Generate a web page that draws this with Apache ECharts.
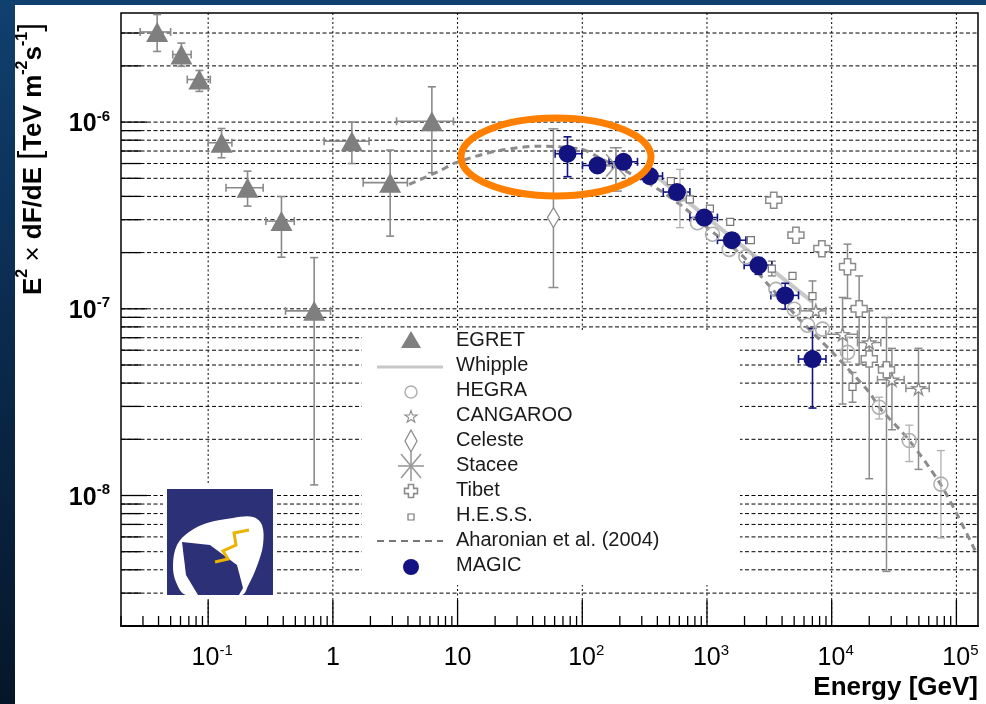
<!DOCTYPE html>
<html>
<head>
<meta charset="utf-8">
<script src="https://cdn.jsdelivr.net/npm/echarts@6/dist/echarts.min.js"></script>
<style>
html, body { margin: 0; padding: 0; width: 986px; height: 704px; overflow: hidden;
  background: linear-gradient(180deg, #10406f 0%, #0b2b4e 45%, #061629 100%); }
#paper { position: absolute; left: 15px; top: 5px; width: 971px; height: 699px; background: #fff; }
#main { position: absolute; left: 0; top: 0; width: 986px; height: 704px; }
</style>
</head>
<body>
<div id="paper"></div>
<div id="main"></div>
<script>
// axis ranges and tick labels
var xMin = 0.02, xMax = 1.49e5;
var yMin = 2e-9, yMax = 3.84e-6;
var xDecades = [0.1, 1, 10, 100, 1e3, 1e4, 1e5];
var xLabelBase = ['10', '1', '10', '10', '10', '10', '10'];
var xLabelExp = ['-1', '', '', '2', '3', '4', '5'];
var yDecades = [1e-8, 1e-7, 1e-6];
var yLabelExp = ['-8', '-7', '-6'];

// [E (GeV), E2dF/dE, low, high, Elow, Ehigh]
var egret = [
    [0.039, 3.04e-6, 2.39e-6, 3.77e-6, 0.0285, 0.050],
    [0.061, 2.30e-6, 1.99e-6, 2.65e-6, 0.052, 0.073],
    [0.085, 1.69e-6, 1.46e-6, 1.89e-6, 0.068, 0.104],
    [0.128, 7.75e-7, 6.44e-7, 9.24e-7, 0.100, 0.155],
    [0.207, 4.45e-7, 3.55e-7, 5.46e-7, 0.139, 0.276],
    [0.387, 2.95e-7, 1.89e-7, 3.99e-7, 0.29, 0.49],
    [0.708, 9.75e-8, 1.14e-8, 1.88e-7, 0.417, 0.958],
    [1.42, 7.9e-7, 6.0e-7, 1.0e-6, 0.851, 1.95],
    [2.88, 4.74e-7, 2.45e-7, 7.08e-7, 1.75, 3.96],
    [6.22, 1.01e-6, 5.36e-7, 1.545e-6, 3.24, 9.27]
];
var magic = [
    [76.1, 6.77e-7, 5.1e-7, 8.34e-7, 60.6, 99.3],
    [132.4, 5.86e-7, 5.4e-7, 6.37e-7, 100.4, 174.6],
    [214, 6.13e-7, 5.75e-7, 6.5e-7, 164, 277],
    [348, 5.14e-7, 4.95e-7, 5.33e-7, 295, 440],
    [574, 4.22e-7, 4.05e-7, 4.4e-7, 446, 729],
    [950, 3.08e-7, 2.95e-7, 3.22e-7, 729, 1213],
    [1584, 2.33e-7, 2.2e-7, 2.46e-7, 1213, 2050],
    [2588, 1.71e-7, 1.53e-7, 1.88e-7, 1986, 3311],
    [4236, 1.18e-7, 9.96e-8, 1.37e-7, 3251, 5420],
    [7015, 5.38e-8, 2.94e-8, 7.85e-8, 5420, 8995]
];
var hegra = [
    [607, 4.1e-7, 2.72e-7, 5.58e-7, 607, 607],
    [839, 2.89e-7, 2.89e-7, 2.89e-7, 839, 839],
    [1107, 2.51e-7, 2.51e-7, 2.51e-7, 1107, 1107],
    [1507, 2.08e-7, 2.08e-7, 2.08e-7, 1507, 1507],
    [2051, 1.9e-7, 1.9e-7, 1.9e-7, 2051, 2051],
    [3573, 1.27e-7, 1.27e-7, 1.27e-7, 3573, 3573],
    [5000, 9.95e-8, 9.95e-8, 9.95e-8, 5000, 5000],
    [6400, 8.17e-8, 8.17e-8, 8.17e-8, 6400, 6400],
    [8433, 7.78e-8, 7.78e-8, 7.78e-8, 8433, 8433],
    [13390, 5.84e-8, 5.18e-8, 7.05e-8, 13390, 13390],
    [24040, 2.97e-8, 2.57e-8, 3.36e-8, 24040, 24040],
    [41880, 1.97e-8, 1.52e-8, 2.38e-8, 41880, 41880],
    [75160, 1.15e-8, 5.92e-9, 1.74e-8, 75160, 75160]
];
var hess = [
    [513, 4.83e-7, 4.83e-7, 4.83e-7, 513, 513],
    [729, 3.86e-7, 3.86e-7, 3.86e-7, 729, 729],
    [1055, 3.44e-7, 3.44e-7, 3.44e-7, 1055, 1055],
    [1535, 2.92e-7, 2.92e-7, 2.92e-7, 1535, 1535],
    [2249, 2.33e-7, 2.33e-7, 2.33e-7, 2249, 2249],
    [3311, 1.64e-7, 1.5e-7, 1.8e-7, 3311, 3311],
    [4850, 1.5e-7, 1.5e-7, 1.5e-7, 4850, 4850],
    [7015, 1.17e-7, 1.0e-7, 1.41e-7, 7015, 7015],
    [14690, 3.82e-8, 3.16e-8, 4.56e-8, 14690, 14690]
];
var tibet = [
    [3430, 3.82e-7, 3.82e-7, 3.82e-7, 3430, 3430],
    [5164, 2.48e-7, 2.48e-7, 2.48e-7, 5164, 5164],
    [8340, 2.1e-7, 2.1e-7, 2.1e-7, 8340, 8340],
    [13390, 1.68e-7, 1.135e-7, 2.22e-7, 13390, 13390],
    [16600, 1.0e-7, 5.06e-8, 1.5e-7, 16600, 16600],
    [20000, 5.38e-8, 5.38e-8, 5.38e-8, 20000, 20000],
    [27500, 4.71e-8, 3.92e-9, 8.98e-8, 27500, 27500]
];
var cangaroo = [
    [7465, 9.75e-8, 9.75e-8, 9.75e-8, 5534, 8977],
    [12220, 7.31e-8, 3.09e-8, 1.15e-7, 8977, 16100],
    [20000, 6.6e-8, 1.23e-8, 9.75e-8, 16100, 24770],
    [30400, 4.17e-8, 2.25e-8, 6.14e-8, 23280, 38100],
    [49660, 3.75e-8, 1.38e-8, 6.14e-8, 39360, 60530]
];
var celeste = [[58.7, 3.08e-7, 1.3e-7, 9.2e-7, 58.7, 58.7]];
var stacee = [[186, 5.86e-7, 4.27e-7, 7.29e-7, 186, 186]];
var whipple = [[400, 5.07e-7], [2000, 2.12e-7], [7000, 1.09e-7]];
var aharonian = [
    [4.09, 4.64e-7], [7.1, 5.46e-7], [9.7, 6.06e-7], [20.3, 6.99e-7], [45, 7.43e-7],
    [100, 7.14e-7], [137, 6.44e-7], [224, 5.46e-7], [389, 4.45e-7], [632, 3.55e-7],
    [1041, 2.67e-7], [1927, 1.92e-7], [3155, 1.33e-7], [5495, 8.8e-8], [10140, 5.84e-8],
    [20000, 3.57e-8], [24040, 2.97e-8], [41880, 1.97e-8], [72800, 1.18e-8],
    [99000, 8.15e-9], [143300, 4.98e-9]
];
var legendNames = ['EGRET', 'Whipple', 'HEGRA', 'CANGAROO', 'Celeste', 'Stacee', 'Tibet',
    'H.E.S.S.', 'Aharonian et al. (2004)', 'MAGIC'];

// tick values: decades and 2..9 multiples
function logTicks(lo, hi) {
    var out = [];
    for (var d = Math.floor(Math.log10(lo)); d <= Math.ceil(Math.log10(hi)); d++) {
        for (var m = 1; m <= 9; m++) {
            var v = m * Math.pow(10, d);
            if (v >= lo && v <= hi) out.push([v, m === 1 ? 1 : 0]);
        }
    }
    return out;
}
var xTicks = logTicks(xMin, xMax);
var yTicks = logTicks(yMin, yMax);

var FONT = '"Liberation Sans", Arial, sans-serif';

function hGrid(params, api) {
    var cs = params.coordSys;
    var y = api.coord([1, api.value(1)])[1];
    return { type: 'line', silent: true,
        shape: { x1: cs.x, y1: y, x2: cs.x + cs.width, y2: y },
        style: { stroke: '#000', lineWidth: 1, lineDash: [4, 2.5] } };
}
function vGrid(params, api) {
    var cs = params.coordSys;
    var x = api.coord([api.value(0), 1e-7])[0];
    return { type: 'line', silent: true,
        shape: { x1: x, y1: cs.y, x2: x, y2: cs.y + cs.height },
        style: { stroke: '#000', lineWidth: 1, lineDash: [2, 2.5] } };
}
function xTick(params, api) {
    var cs = params.coordSys;
    var x = api.coord([api.value(0), 1e-7])[0];
    var len = api.value(1) ? 26 : 10;
    var yb = cs.y + cs.height;
    return { type: 'line', silent: true, shape: { x1: x, y1: yb, x2: x, y2: yb - len },
        style: { stroke: '#000', lineWidth: 1.3 } };
}
function yTick(params, api) {
    var cs = params.coordSys;
    var y = api.coord([1, api.value(1)])[1];
    var len = api.value(0) ? 26 : 20;
    return { type: 'line', silent: true, shape: { x1: cs.x, y1: y, x2: cs.x + len, y2: y },
        style: { stroke: '#000', lineWidth: 1.3 } };
}
function xLabel(params, api) {
    var cs = params.coordSys;
    var i = params.dataIndex;
    var x = api.coord([api.value(0), 1e-7])[0];
    var txt = '{b|' + xLabelBase[i] + '}' + (xLabelExp[i] ? '{s|' + xLabelExp[i] + '}' : '');
    return { type: 'text', silent: true, x: x + (xLabelExp[i] ? 4 : 0), y: cs.y + cs.height + 31,
        style: { text: txt, textAlign: 'center', textVerticalAlign: 'middle',
            rich: { b: { fontSize: 25, fontFamily: FONT, color: '#000', lineHeight: 28, verticalAlign: 'bottom' },
                    s: { fontSize: 15, fontFamily: FONT, color: '#000', lineHeight: 16, verticalAlign: 'top' } } } };
}
function yLabel(params, api) {
    var cs = params.coordSys;
    var i = params.dataIndex;
    var y = api.coord([1, api.value(1)])[1];
    var txt = '{b|10}{s|' + yLabelExp[i] + '}';
    return { type: 'text', silent: true, x: cs.x - 11, y: y + 1,
        style: { text: txt, textAlign: 'right', textVerticalAlign: 'middle',
            rich: { b: { fontSize: 25, fontWeight: 'bold', fontFamily: FONT, color: '#000', lineHeight: 28, verticalAlign: 'bottom' },
                    s: { fontSize: 15, fontWeight: 'bold', fontFamily: FONT, color: '#000', lineHeight: 16, verticalAlign: 'top' } } } };
}
function makeErr(color, cap, lw) {
    return function (params, api) {
        var e = api.value(0), f = api.value(1);
        var flo = api.value(2), fhi = api.value(3), elo = api.value(4), ehi = api.value(5);
        var c = api.coord([e, f]);
        var st = { stroke: color, lineWidth: lw };
        var kids = [];
        if (fhi > flo) {
            var yt = api.coord([e, fhi])[1], yb = api.coord([e, flo])[1];
            kids.push({ type: 'line', shape: { x1: c[0], y1: yt, x2: c[0], y2: yb }, style: st });
            kids.push({ type: 'line', shape: { x1: c[0] - cap, y1: yt, x2: c[0] + cap, y2: yt }, style: st });
            kids.push({ type: 'line', shape: { x1: c[0] - cap, y1: yb, x2: c[0] + cap, y2: yb }, style: st });
        }
        if (ehi > elo) {
            var xl = api.coord([elo, f])[0], xr = api.coord([ehi, f])[0];
            kids.push({ type: 'line', shape: { x1: xl, y1: c[1], x2: xr, y2: c[1] }, style: st });
            kids.push({ type: 'line', shape: { x1: xl, y1: c[1] - cap, x2: xl, y2: c[1] + cap }, style: st });
            kids.push({ type: 'line', shape: { x1: xr, y1: c[1] - cap, x2: xr, y2: c[1] + cap }, style: st });
        }
        return { type: 'group', silent: true, children: kids };
    };
}
function errSeries(arr, color, cap, lw) {
    return { type: 'custom', coordinateSystem: 'cartesian2d', z: 5, silent: true,
        encode: { x: 0, y: 1 }, data: arr, renderItem: makeErr(color, cap, lw) };
}
function pts(arr) { return arr.map(function (d) { return [d[0], d[1]]; }); }

var STAR = 'path://M0,-10L2.245,-3.09L9.51,-3.09L3.63,1.18L5.88,8.09L0,3.82L-5.88,8.09L-3.63,1.18L-9.51,-3.09L-2.245,-3.09Z';
var PLUS = 'path://M3,0L7,0L7,3L10,3L10,7L7,7L7,10L3,10L3,7L0,7L0,3L3,3Z';
var ASTER = 'path://M10,0L10,20M0,10L20,10M3,3L17,17M3,17L17,3';

// legend drawn by hand
var legX = 411, legTx = 456, legY0 = 340, legDy = 25;
var legend = [{ type: 'rect', z: 3, shape: { x: 362, y: 330, width: 378, height: 255 },
    style: { fill: '#fff' }, silent: true }];
function ly(i) { return legY0 + i * legDy; }
legendNames.forEach(function (n, i) {
    legend.push({ type: 'text', z: 4, silent: true, x: legTx, y: ly(i),
        style: { text: n, font: '20px ' + FONT, fill: '#1a1a1a', textVerticalAlign: 'middle' } });
});
legend.push(
    { type: 'polygon', z: 4, x: legX, y: ly(0), shape: { points: [[-10, 8], [10, 8], [0, -9]] }, style: { fill: '#808080' } },
    { type: 'line', z: 4, x: legX, y: ly(1) + 2, shape: { x1: -34, y1: 0, x2: 32, y2: 0 }, style: { stroke: '#c8c8c8', lineWidth: 3 } },
    { type: 'circle', z: 4, x: legX, y: ly(2) + 2, shape: { cx: 0, cy: 0, r: 6 }, style: { fill: 'none', stroke: '#b0b0b0', lineWidth: 1.5 } },
    { type: 'polygon', z: 4, x: legX, y: ly(3) + 2, scaleX: 0.65, scaleY: 0.65,
      shape: { points: [[0, -10], [2.245, -3.09], [9.51, -3.09], [3.63, 1.18], [5.88, 8.09], [0, 3.82], [-5.88, 8.09], [-3.63, 1.18], [-9.51, -3.09], [-2.245, -3.09]] },
      style: { fill: '#fff', stroke: '#8c8c8c', lineWidth: 1.6 } },
    { type: 'polygon', z: 4, x: legX, y: ly(4) + 1, shape: { points: [[0, -11], [6, 0], [0, 11], [-6, 0]] }, style: { fill: '#fff', stroke: '#8c8c8c', lineWidth: 1.3 } },
    { type: 'group', z: 4, x: legX, y: ly(5) + 1, children: [
        { type: 'line', z: 4, shape: { x1: 0, y1: -15, x2: 0, y2: 15 }, style: { stroke: '#9a9a9a', lineWidth: 1.6 } },
        { type: 'line', z: 4, shape: { x1: -13, y1: 0, x2: 13, y2: 0 }, style: { stroke: '#9a9a9a', lineWidth: 1.6 } },
        { type: 'line', z: 4, shape: { x1: -10, y1: -12, x2: 10, y2: 12 }, style: { stroke: '#9a9a9a', lineWidth: 1.6 } },
        { type: 'line', z: 4, shape: { x1: -10, y1: 12, x2: 10, y2: -12 }, style: { stroke: '#9a9a9a', lineWidth: 1.6 } }] },
    { type: 'polygon', z: 4, x: legX - 6.5, y: ly(6) - 5.5, scaleX: 1.3, scaleY: 1.3,
      shape: { points: [[3, 0], [7, 0], [7, 3], [10, 3], [10, 7], [7, 7], [7, 10], [3, 10], [3, 7], [0, 7], [0, 3], [3, 3]] },
      style: { fill: '#fff', stroke: '#8c8c8c', lineWidth: 1.2 } },
    { type: 'rect', z: 4, x: legX, y: ly(7) + 2, shape: { x: -3, y: -3, width: 6, height: 6 }, style: { fill: '#fff', stroke: '#777', lineWidth: 1.2 } },
    { type: 'line', z: 4, x: legX, y: ly(8) + 1, shape: { x1: -34, y1: 0, x2: 32, y2: 0 }, style: { stroke: '#777', lineWidth: 2, lineDash: [7, 5] } },
    { type: 'circle', z: 4, x: legX, y: ly(9) + 2, shape: { cx: 0, cy: 0, r: 8 }, style: { fill: '#121282' } }
);

// MAGIC logo
var logo = { type: 'group', z: 4, x: 167, y: 489, silent: true, children: [
    { type: 'rect', z: 3, shape: { x: -4, y: -4, width: 114, height: 114 }, style: { fill: '#fff' } },
    { type: 'rect', z: 4, shape: { x: 0, y: 0, width: 106, height: 106 }, style: { fill: '#2b3077' } },
    { type: 'polygon', z: 4, shape: { smooth: 0.35, points: [[6, 76], [10, 56], [22, 43], [40, 34], [66, 29], [86, 28], [95, 36], [96, 56], [90, 77], [81, 97], [75, 106], [19, 106], [9, 93]] },
      style: { fill: '#fff' } },
    { type: 'polygon', z: 4, shape: { points: [[15, 53], [43, 56], [70, 76], [76, 99], [72, 106], [31, 106], [19, 86]] }, style: { fill: '#2b3077' } },
    { type: 'polyline', z: 4, shape: { points: [[48, 73], [61, 70], [56, 62], [69, 56], [67, 44], [82, 41]] }, style: { stroke: '#eab400', lineWidth: 3, fill: null } }
] };

var option = {
    animation: false,
    grid: { left: 121, right: 8, top: 13, bottom: 78, show: true, borderColor: '#000', borderWidth: 1.5, backgroundColor: 'transparent' },
    xAxis: { type: 'log', logBase: 10, min: xMin, max: xMax,
        axisLine: { show: true, lineStyle: { color: '#000', width: 2 } },
        axisTick: { show: false }, axisLabel: { show: false }, splitLine: { show: false } },
    yAxis: { type: 'log', logBase: 10, min: yMin, max: yMax,
        axisLine: { show: false }, axisTick: { show: false }, axisLabel: { show: false }, splitLine: { show: false } },
    graphic: { elements: legend.concat([logo,
        { type: 'ellipse', z: 20, silent: true, shape: { cx: 556, cy: 157, rx: 95, ry: 39 }, style: { fill: 'none', stroke: '#ff8000', lineWidth: 7 } },
        { type: 'text', z: 4, silent: true, x: 31, y: 159, rotation: Math.PI / 2,
          style: { text: '{b|E}{s|2}{m| × }{b|dF/dE }{k|[}{b|TeV m}{s|-2}{b|s}{s|-1}{k|]}', textAlign: 'center', textVerticalAlign: 'middle',
            rich: { b: { fontSize: 26, fontWeight: 'bold', fontFamily: FONT, color: '#000', lineHeight: 32, verticalAlign: 'bottom' },
                    m: { fontSize: 26, fontWeight: 'normal', fontFamily: FONT, color: '#000', lineHeight: 32, verticalAlign: 'bottom' },
                    k: { fontSize: 32, fontWeight: 'normal', fontFamily: FONT, color: '#000', lineHeight: 32, verticalAlign: 'bottom' },
                    s: { fontSize: 16, fontWeight: 'bold', fontFamily: FONT, color: '#000', lineHeight: 17, verticalAlign: 'top' } } } },
        { type: 'text', z: 4, silent: true, x: 978, y: 688,
          style: { text: 'Energy [GeV]', font: 'bold 26px ' + FONT, fill: '#000', textAlign: 'right', textVerticalAlign: 'middle' } }
    ]) },
    series: [
        { type: 'custom', z: 1, silent: true, data: yTicks.map(function (t) { return [1, t[0]]; }), renderItem: hGrid },
        { type: 'custom', z: 1, silent: true, data: xDecades.map(function (v) { return [v, 1e-7]; }), renderItem: vGrid },
        { type: 'custom', z: 2, silent: true, data: xTicks.map(function (t) { return [t[0], t[1]]; }), encode: { x: 0 }, renderItem: xTick },
        { type: 'custom', z: 2, silent: true, data: yTicks.map(function (t) { return [t[1], t[0]]; }), encode: { y: 1 }, renderItem: yTick },
        { type: 'custom', z: 2, silent: true, data: xDecades.map(function (v) { return [v, 1e-7]; }), renderItem: xLabel },
        { type: 'custom', z: 2, silent: true, data: yDecades.map(function (v) { return [1, v]; }), renderItem: yLabel },
        { type: 'line', z: 4, silent: true, data: whipple, symbol: 'none', lineStyle: { color: '#c8c8c8', width: 4 } },
        { type: 'line', z: 4, silent: true, data: aharonian, symbol: 'none', smooth: 0.3, lineStyle: { color: '#8c8c8c', width: 3, type: [7, 5] } },
        errSeries(hegra, '#b0b0b0', 4, 1.3),
        errSeries(cangaroo, '#8c8c8c', 4, 1.5),
        errSeries(tibet, '#8c8c8c', 4, 1.5),
        errSeries(hess, '#8c8c8c', 4, 1.5),
        errSeries(celeste, '#8c8c8c', 5, 1.5),
        errSeries(stacee, '#8c8c8c', 6, 1.5),
        errSeries(egret, '#8a8a8a', 4, 1.6),
        errSeries(magic, '#141482', 4, 1.6),
        { type: 'scatter', z: 6, silent: true, data: pts(hegra), symbol: 'circle', symbolSize: 14,
          itemStyle: { color: 'rgba(255,255,255,0)', borderColor: '#b0b0b0', borderWidth: 1.6, opacity: 1 } },
        { type: 'scatter', z: 6, silent: true, data: pts(hess), symbol: 'rect', symbolSize: 7,
          itemStyle: { color: '#fff', borderColor: '#777', borderWidth: 1.2, opacity: 1 } },
        { type: 'scatter', z: 6, silent: true, data: pts(tibet), symbol: PLUS, symbolSize: 16,
          itemStyle: { color: '#fff', borderColor: '#8c8c8c', borderWidth: 1.5, opacity: 1 } },
        { type: 'scatter', z: 6, silent: true, data: pts(cangaroo), symbol: STAR, symbolSize: 13,
          itemStyle: { color: '#fff', borderColor: '#8c8c8c', borderWidth: 1.4, opacity: 1 } },
        { type: 'scatter', z: 6, silent: true, data: pts(celeste), symbol: 'diamond', symbolSize: [12, 20],
          itemStyle: { color: '#fff', borderColor: '#8c8c8c', borderWidth: 1.3, opacity: 1 } },
        { type: 'scatter', z: 6, silent: true, data: pts(stacee), symbol: ASTER, symbolSize: [28, 32],
          itemStyle: { color: 'none', borderColor: '#9a9a9a', borderWidth: 1.6, opacity: 1 } },
        { type: 'scatter', z: 7, silent: true, data: pts(egret), symbol: 'triangle', symbolSize: [22, 20],
          itemStyle: { color: '#7f7f7f', opacity: 1 } },
        { type: 'scatter', z: 8, silent: true, data: pts(magic), symbol: 'circle', symbolSize: 18,
          itemStyle: { color: '#131380', opacity: 1 } }
    ]
};

var chart = echarts.init(document.getElementById('main'));
chart.setOption(option);
</script>
</body>
</html>
